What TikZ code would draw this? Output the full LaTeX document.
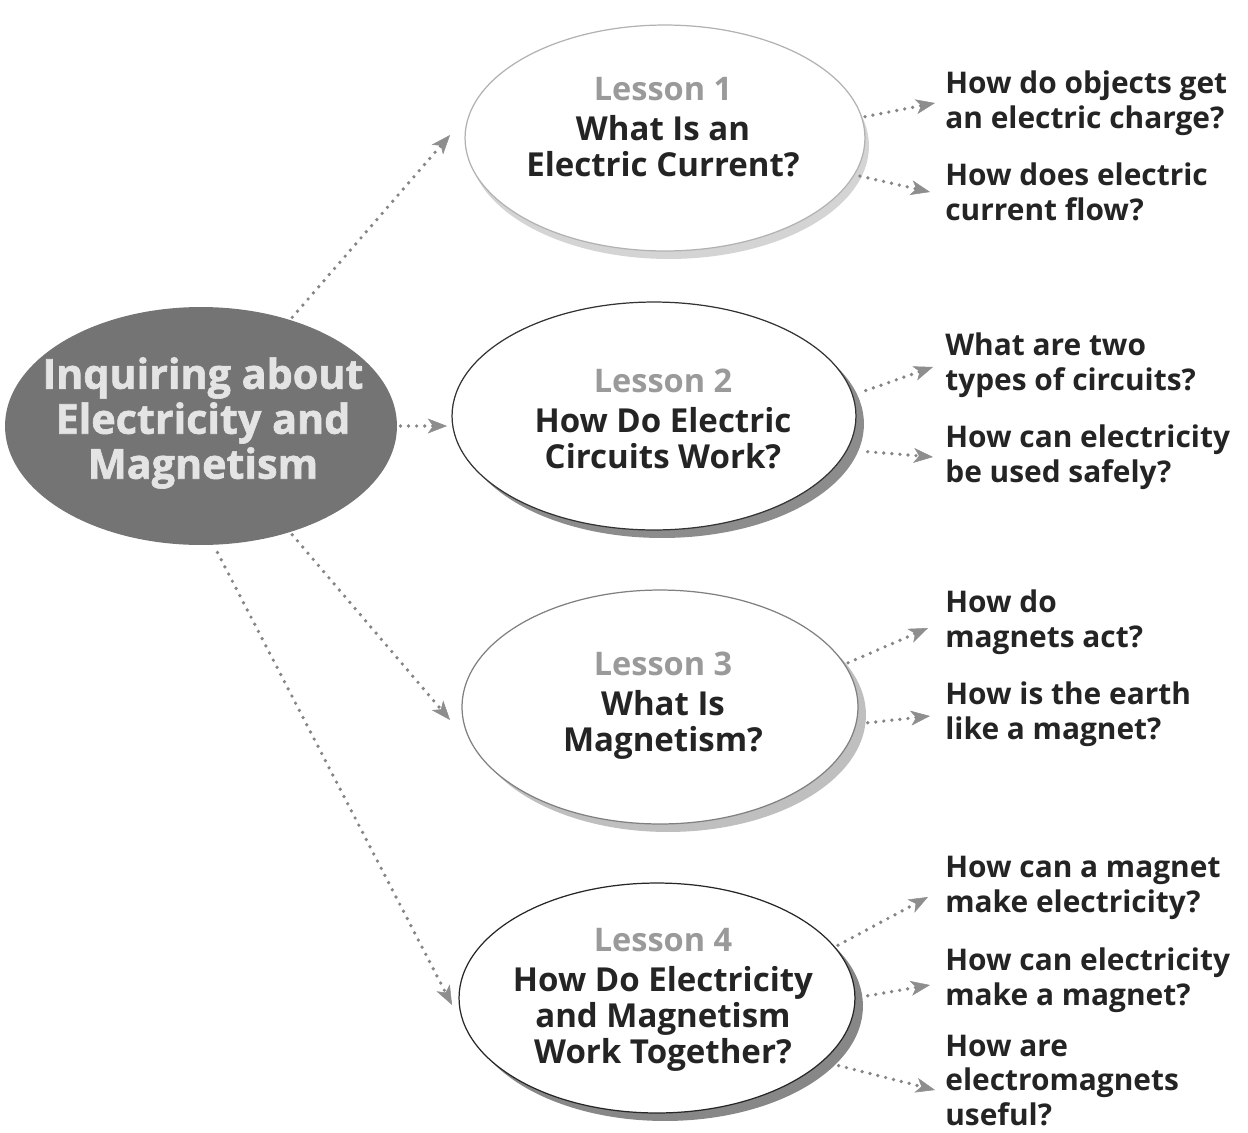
\documentclass[tikz,border=0pt]{standalone}
\usepackage{fontspec}
\setmainfont{Open Sans}
\usetikzlibrary{arrows.meta,shapes.geometric,shadows,calc}
\definecolor{dotc}{HTML}{858585}
\definecolor{tipc}{HTML}{8E8E8E}
\definecolor{centc}{HTML}{747474}
\definecolor{txtc}{HTML}{242424}
\definecolor{lsnc}{HTML}{9A9A9A}
\definecolor{centtxt}{HTML}{E4E4E4}
\begin{document}
\begin{tikzpicture}[x=0.02cm,y=-0.02cm,
  conn/.style={draw=dotc, line width=2.1pt, line cap=round,
    dash pattern=on 0pt off 4.6pt,
    -{Stealth[length=11pt,width=8.5pt,inset=3pt,color=tipc,fill=tipc,line width=0.3pt]},
    shorten <=2pt},
  lesson/.style={ellipse, fill=white, inner sep=0pt, outer sep=0pt, line width=0.7pt},
  ltext/.style={align=center, text=txtc, font=\bfseries\fontsize{18.8}{20.6}\selectfont},
  qtext/.style={align=left, text=txtc, anchor=base west, inner sep=0pt,
    font=\bfseries\fontsize{17}{19.9}\selectfont}]
\useasboundingbox (0,0) rectangle (1248,1133);

% central topic
\node[ellipse, fill=centc, minimum width=7.84cm, minimum height=4.76cm, inner sep=0pt, outer sep=0pt] (c) at (201,426) {};
\node[align=center, text=centtxt, font=\bfseries\fontsize{23.5}{25.6}\selectfont\addfontfeature{FakeBold=1.5}] (ct) at (203,423)
  {Inquiring about\\Electricity and\\Magnetism};

% lessons
\node[lesson, draw=black!30, minimum width=8cm, minimum height=4.52cm,
  drop shadow={shadow xshift=0.08cm, shadow yshift=-0.16cm, fill=black!17, opacity=1}] (l1) at (665,138) {};
\node[lesson, draw=black!80, minimum width=8.08cm, minimum height=4.56cm,
  drop shadow={shadow xshift=0.16cm, shadow yshift=-0.16cm, fill=black!45, opacity=1}] (l2) at (654,416) {};
\node[lesson, draw=black!50, minimum width=7.92cm, minimum height=4.68cm,
  drop shadow={shadow xshift=0.16cm, shadow yshift=-0.16cm, fill=black!25, opacity=1}] (l3) at (660,707) {};
\node[lesson, draw=black!85, minimum width=7.92cm, minimum height=4.6cm,
  drop shadow={shadow xshift=0.16cm, shadow yshift=-0.16cm, fill=black!47, opacity=1}] (l4) at (657,998) {};

\newcommand{\lsnline}[1]{{\color{lsnc}\fontsize{18.5}{20}\selectfont #1}}
\node[ltext] (t1) at (663,127) {\lsnline{Lesson 1}\\[2pt]What Is an\\Electric Current?};
\node[ltext] (t2) at (663,419) {\lsnline{Lesson 2}\\[2pt]How Do Electric\\Circuits Work?};
\node[ltext] (t3) at (663,706) {\lsnline{Lesson 3}\\[2pt]What Is\\Magnetism?};
\node[ltext] (t4) at (663,1000) {\lsnline{Lesson 4}\\[2pt]How Do Electricity\\and Magnetism\\Work Together?};

% questions (anchored at the baseline of their last line)
\node[qtext] (q1a) at (945,128) {How do objects get\\an electric charge?};
\node[qtext] (q1b) at (945,220) {How does electric\\current flow?};
\node[qtext] (q2a) at (945,390) {What are two\\types of circuits?};
\node[qtext] (q2b) at (945,482) {How can electricity\\be used safely?};
\node[qtext] (q3a) at (945,647) {How do\\magnets act?};
\node[qtext] (q3b) at (945,739) {How is the earth\\like a magnet?};
\node[qtext] (q4a) at (945,912) {How can a magnet\\make electricity?};
\node[qtext] (q4b) at (945,1005) {How can electricity\\make a magnet?};
\node[qtext, font=\bfseries\fontsize{17}{19.4}\selectfont] (q4c) at (945,1125) {How are\\electromagnets\\useful?};

% connectors from the central topic
\draw[conn] (c.50) -- ($(l1.west)+(-15,-3)$);
\draw[conn] (c.east) -- ($(c.east -| l2.west)+(-5,0)$);
\draw[conn] (c.-50) -- ($(l3.west)+(-12,13)$);
\draw[conn, shorten <=5pt] (c.-84) -- ($(l4.west)+(-7,7)$);

% connectors to the questions
\draw[conn] (l1.6) -- ($(q1a.base west)+(-10,-25)$);
\draw[conn, shorten <=0.12cm] (l1.-11) -- ($(q1b.base west)+(-15,-28)$);
\draw[conn, shorten <=0.28cm] (l2.6) -- ($(q2a.base west)+(-12,-23)$);
\draw[conn, shorten <=0.42cm] (l2.-10) -- ($(q2b.base west)+(-12,-25)$);
\draw[conn, shorten <=0.08cm] (l3.13) -- ($(q3a.base west)+(-17,-19)$);
\draw[conn, shorten <=0.24cm] (l3.-5) -- ($(q3b.base west)+(-15,-23)$);
\draw[conn, shorten <=0.08cm] (l4.16) -- ($(q4a.base west)+(-17,-15)$);
\draw[conn, shorten <=0.26cm] (l4.0) -- ($(q4b.base west)+(-15,-20)$);
\draw[conn, shorten <=0.34cm] (l4.-21) -- ($(q4c.base west)+(-10,-35)$);
\end{tikzpicture}
\end{document}
